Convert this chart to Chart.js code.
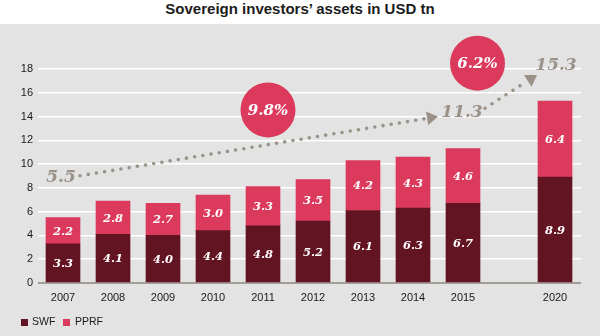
<!DOCTYPE html>
<html>
<head>
<meta charset="utf-8">
<script src="https://cdn.jsdelivr.net/npm/chart.js@4/dist/chart.umd.min.js"></script>
<style>
  html, body { margin: 0; padding: 0; background: #ffffff; }
  #title {
    height: 24px; line-height: 23px; text-align: center;
    font: bold 15px "Liberation Sans", Arial, sans-serif; color: #1c1c1c;
  }
  #panel { position: relative; width: 600px; height: 312px; background: #e3e3e3; }
  canvas { display: block; }
  .key { position: absolute; top: 295px; width: 7px; height: 7px; }
  .keytext {
    position: absolute; top: 291px; height: 15px; line-height: 15px;
    font: 10.5px "Liberation Sans", Arial, sans-serif; color: #1a1a1a;
  }
</style>
</head>
<body>
<div id="title">Sovereign investors’ assets in USD tn</div>
<div id="panel">
  <canvas id="chart" width="600" height="312"></canvas>
  <div class="key" style="left:21px;background:#631422"></div>
  <div class="keytext" style="left:32px">SWF</div>
  <div class="key" style="left:63px;background:#db3a5d"></div>
  <div class="keytext" style="left:75px">PPRF</div>
</div>
<script>
// Assets by year, USD trillion
const years = ['2007', '2008', '2009', '2010', '2011', '2012', '2013', '2014', '2015', '2020'];
const swf   = [3.3, 4.1, 4.0, 4.4, 4.8, 5.2, 6.1, 6.3, 6.7, 8.9];
const pprf  = [2.2, 2.8, 2.7, 3.0, 3.3, 3.5, 4.2, 4.3, 4.6, 6.4];
const yTicks = [0, 2, 4, 6, 8, 10, 12, 14, 16, 18];
// Annual growth rates for 2007-2015 and 2015-2020
const growthRates = ['9.8%', '6.2%'];

const DARK = '#631422';
const PINK = '#db3a5d';
const TREND = '#9b9187';

// The forecast year sits a little apart from the historical run
const slot = i => (i < years.length - 1 ? i : i + 0.84);

const totals = swf.map((v, i) => +(v + pprf[i]).toFixed(1));
const first = 0, lastHist = years.length - 2, lastAll = years.length - 1;

const valueLabels = {
  id: 'valueLabels',
  afterDatasetsDraw(chart) {
    const ctx = chart.ctx;
    ctx.save();
    ctx.font = 'italic bold 11.5px "DejaVu Serif", Georgia, serif';
    ctx.fillStyle = '#ffffff';
    ctx.textAlign = 'center';
    ctx.textBaseline = 'middle';
    chart.data.datasets.forEach((ds, di) => {
      chart.getDatasetMeta(di).data.forEach((bar, i) => {
        const src = di === 0 ? swf : pprf;
        ctx.fillText(src[i].toFixed(1), bar.x, (bar.y + bar.base) / 2 + 1);
      });
    });
    ctx.restore();
  }
};

function arrow(ctx, x0, y0, x1, y1) {
  const ang = Math.atan2(y1 - y0, x1 - x0);
  const len = 11, half = 7;
  const bx = x1 - Math.cos(ang) * len, by = y1 - Math.sin(ang) * len;
  ctx.save();
  ctx.strokeStyle = TREND;
  ctx.lineWidth = 3.6;
  ctx.lineCap = 'round';
  ctx.setLineDash([0, 8.3]);
  ctx.beginPath();
  ctx.moveTo(x0, y0);
  ctx.lineTo(bx - Math.cos(ang) * 3, by - Math.sin(ang) * 3);
  ctx.stroke();
  ctx.setLineDash([]);
  ctx.fillStyle = TREND;
  ctx.beginPath();
  ctx.moveTo(x1, y1);
  ctx.lineTo(bx + Math.sin(ang) * half, by - Math.cos(ang) * half);
  ctx.lineTo(bx - Math.sin(ang) * half, by + Math.cos(ang) * half);
  ctx.closePath();
  ctx.fill();
  ctx.restore();
}

const growthTrend = {
  id: 'growthTrend',
  afterDraw(chart) {
    const ctx = chart.ctx;
    const sx = chart.scales.x, sy = chart.scales.y;
    const px = v => sx.getPixelForValue(v), py = v => sy.getPixelForValue(v);

    arrow(ctx, px(0.34), py(9.02), px(7.5), py(14.0));
    arrow(ctx, px(8.44), py(14.7), px(9.48), py(17.5));

    ctx.save();
    ctx.font = 'italic bold 17px "DejaVu Serif", Georgia, serif';
    ctx.fillStyle = TREND;
    ctx.textAlign = 'center';
    ctx.textBaseline = 'middle';
    ctx.fillText(totals[first].toFixed(1), px(-0.04), py(8.85));
    ctx.fillText(totals[lastHist].toFixed(1), px(7.98), py(14.3));
    ctx.fillText(totals[lastAll].toFixed(1), px(9.86), py(18.26));

    const bubbles = [[4.1, 14.56], [8.29, 18.49]];
    bubbles.forEach(([bx, by], k) => {
      ctx.fillStyle = PINK;
      ctx.beginPath();
      ctx.arc(px(bx), py(by), 27.5, 0, Math.PI * 2);
      ctx.fill();
      ctx.fillStyle = '#ffffff';
      ctx.font = 'italic bold 15px "DejaVu Serif", Georgia, serif';
      ctx.fillText(growthRates[k], px(bx), py(by) + 1);
    });
    ctx.restore();
  }
};

new Chart(document.getElementById('chart'), {
  type: 'bar',
  data: {
    datasets: [
      { label: 'SWF', data: swf.map((v, i) => ({ x: slot(i), y: v })), backgroundColor: DARK, barThickness: 34 },
      { label: 'PPRF', data: pprf.map((v, i) => ({ x: slot(i), y: v })), backgroundColor: PINK, barThickness: 34 }
    ]
  },
  options: {
    responsive: false,
    animation: false,
    layout: { padding: { top: 45, right: 19, left: 0, bottom: 31 } },
    plugins: { legend: { display: false }, tooltip: { enabled: false } },
    scales: {
      x: {
        type: 'linear',
        stacked: true,
        offset: false,
        min: -0.5,
        max: 10.36,
        grid: { display: false, drawTicks: false, offset: false },
        border: { display: false },
        afterBuildTicks: s => { s.ticks = years.map((_, i) => ({ value: slot(i) })); },
        afterFit: s => { s.height = 22; },
        ticks: {
          autoSkip: false,
          maxRotation: 0,
          padding: 8,
          color: '#1a1a1a',
          font: { family: '"Liberation Sans", Arial, sans-serif', size: 11 },
          callback: (v, i) => years[i]
        }
      },
      y: {
        stacked: true,
        min: 0,
        max: 18,
        afterBuildTicks: s => { s.ticks = yTicks.map(v => ({ value: v })); },
        afterFit: s => { s.width = 38; },
        border: { display: false },
        grid: {
          drawTicks: false,
          color: c => (c.tick && c.tick.value === 0 ? '#a39d97' : '#ffffff'),
          lineWidth: c => (c.tick && c.tick.value === 0 ? 2 : 1.5)
        },
        ticks: {
          padding: 5,
          color: '#1a1a1a',
          font: { family: '"Liberation Sans", Arial, sans-serif', size: 11 }
        }
      }
    }
  },
  plugins: [valueLabels, growthTrend]
});
</script>
</body>
</html>
